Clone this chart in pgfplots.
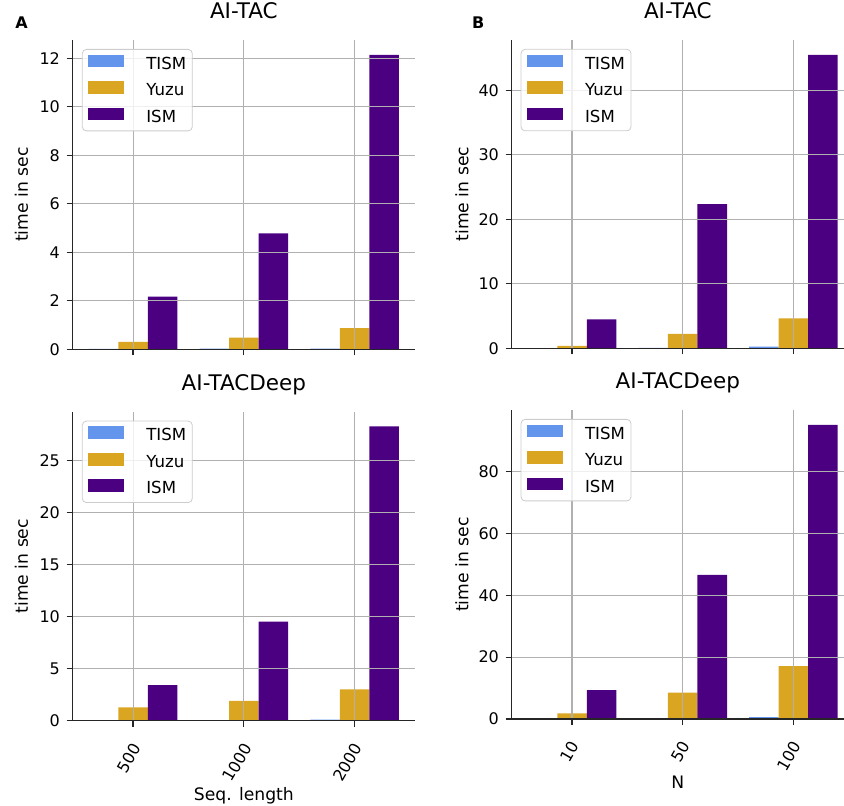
\documentclass[border=0pt]{standalone}
\usepackage{fontspec}
\setmainfont{DejaVu Sans}
\usepackage{pgfplots}
\pgfplotsset{compat=1.18}

\definecolor{tism}{RGB}{100,149,237}
\definecolor{yuzu}{RGB}{218,165,32}
\definecolor{ism}{RGB}{75,0,130}
\definecolor{gridc}{RGB}{176,176,176}
\definecolor{spine}{RGB}{38,38,38}

\pgfplotsset{
  sq/.style={ybar, bar width=0.2667, fill=#1, draw=none,
    legend image code/.code={\fill[#1, sharp corners, fill opacity=1] (0pt,-1.3pt) rectangle (18pt,5pt);}},
  panel/.style={
    scale only axis, axis on top,
    xmin=-0.545, ymin=0,
    xtick={0,1,2},
    axis x line*=bottom, axis y line*=left,
    axis line style={spine, line width=0.6pt, -},
    tick align=outside, major tick length=3pt,
    every tick/.style={spine, line width=0.6pt},
    grid=major, major grid style={gridc, line width=0.55pt},
    tick label style={font=\fontsize{8}{9.6}\selectfont},
    /pgf/number format/assume math mode=true,
    yticklabel style={inner sep=0pt, xshift=-3.2pt},
    title style={font=\fontsize{10.75}{12}\selectfont, at={(0.5,1)}, anchor=base, yshift=4.7pt},
    ylabel={time in sec},
    every axis y label/.style={at={(axis description cs:-0.15,0.5)}, rotate=90, anchor=center,
      font=\fontsize{8.6}{10}\selectfont},
    legend style={at={(0.027,0.971)}, anchor=north west,
      draw=black!20, fill=white, fill opacity=0.8, text opacity=1, rounded corners=2pt,
      font=\fontsize{8.3}{10}\selectfont,
      inner xsep=3pt, inner ysep=2.7pt, row sep=4.4pt, column sep=11pt,
      nodes={inner sep=0pt, text height=6.1pt, text depth=1.6pt}},
    legend cell align=left,
  },
}

\begin{document}
\begin{tikzpicture}
\path[use as bounding box] (0pt,0pt) rectangle (422pt,-402.5pt);

% A, top: AI-TAC vs sequence length
\begin{axis}[panel, at={(36.35pt,-174.65pt)}, anchor=south west,
  width=171.15pt, height=154.65pt, xmax=2.545, ymax=12.75,
  ytick={0,2,4,6,8,10,12}, xticklabels={}, title={AI-TAC}]
\addplot[sq=tism, bar shift=-0.2667] coordinates {(0,0.02) (1,0.03) (2,0.03)};
\addplot[sq=yuzu, bar shift=0] coordinates {(0,0.31) (1,0.48) (2,0.87)};
\addplot[sq=ism, bar shift=0.2667] coordinates {(0,2.17) (1,4.78) (2,12.14)};
\legend{TISM,Yuzu,ISM}
\end{axis}

% B, top: AI-TAC vs N
\begin{axis}[panel, at={(255.85pt,-174.15pt)}, anchor=south west,
  width=166.15pt, height=154.15pt, xmax=2.457, ymax=47.8,
  ytick={0,10,20,30,40}, xticklabels={}, title={AI-TAC}]
\addplot[sq=tism, bar shift=-0.2667] coordinates {(0,0.03) (1,0.08) (2,0.25)};
\addplot[sq=yuzu, bar shift=0] coordinates {(0,0.36) (1,2.22) (2,4.66)};
\addplot[sq=ism, bar shift=0.2667] coordinates {(0,4.50) (1,22.36) (2,45.5)};
\legend{TISM,Yuzu,ISM}
\end{axis}

% A, bottom: AI-TACDeep vs sequence length
\begin{axis}[panel, at={(36.35pt,-360.35pt)}, anchor=south west,
  width=171.15pt, height=154.5pt, xmax=2.545, ymax=29.72,
  ytick={0,5,10,15,20,25}, xticklabels={500,1000,2000}, title={AI-TACDeep},
  xticklabel style={inner sep=0pt, xshift=1.8pt, yshift=-8.8pt, rotate=60, anchor=east},
  xlabel={Seq. length},
  every axis x label/.style={at={(axis description cs:0.5,-0.2566)}, anchor=base,
    font=\fontsize{8.6}{10}\selectfont}]
\addplot[sq=tism, bar shift=-0.2667] coordinates {(0,0.03) (1,0.05) (2,0.1)};
\addplot[sq=yuzu, bar shift=0] coordinates {(0,1.29) (1,1.90) (2,3.02)};
\addplot[sq=ism, bar shift=0.2667] coordinates {(0,3.43) (1,9.53) (2,28.3)};
\legend{TISM,Yuzu,ISM}
\end{axis}

% B, bottom: AI-TACDeep vs N
\begin{axis}[panel, at={(255.85pt,-359.5pt)}, anchor=south west,
  width=166.15pt, height=154.5pt, xmax=2.457, ymax=99.9,
  ytick={0,20,40,60,80}, xticklabels={10,50,100}, title={AI-TACDeep},
  xticklabel style={inner sep=0pt, xshift=1.5pt, yshift=-8.8pt, rotate=60, anchor=east},
  xlabel={N},
  every axis x label/.style={at={(axis description cs:0.5,-0.2243)}, anchor=base,
    font=\fontsize{8.6}{10}\selectfont}]
\addplot[sq=tism, bar shift=-0.2667] coordinates {(0,0.1) (1,0.3) (2,0.6)};
\addplot[sq=yuzu, bar shift=0] coordinates {(0,1.83) (1,8.52) (2,17.1)};
\addplot[sq=ism, bar shift=0.2667] coordinates {(0,9.38) (1,46.6) (2,95.1)};
\legend{TISM,Yuzu,ISM}
\end{axis}

% panel letters
\node[anchor=base west, inner sep=0pt, font=\bfseries\fontsize{8}{9.6}\selectfont] at (7.5pt,-14pt) {A};
\node[anchor=base west, inner sep=0pt, font=\bfseries\fontsize{8}{9.6}\selectfont] at (235.85pt,-14pt) {B};
\end{tikzpicture}
\end{document}
